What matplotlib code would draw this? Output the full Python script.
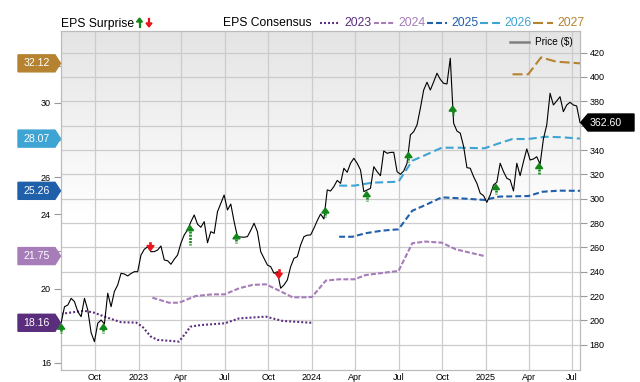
import numpy as np
import pandas as pd
import matplotlib
matplotlib.use('Agg')
import matplotlib.pyplot as plt
import matplotlib.dates as mdates
from matplotlib.patches import Polygon
from matplotlib.lines import Line2D
from matplotlib.transforms import IdentityTransform
from matplotlib.ticker import FuncFormatter

plt.rcParams['font.family'] = ['Liberation Sans', 'DejaVu Sans']
plt.rcParams['lines.scale_dashes'] = False

W, H = 640, 382

# weekly closing price
price_start = '2022-07-22'
price = [198.1, 211.2, 212.6, 218.1, 215.4, 207.1, 203.0, 218.1, 208.5, 189.9,
         182.5, 197.6, 200.3, 197.0, 222.3, 211.2, 223.7, 229.1, 238.7, 238.1,
         236.5, 238.5, 240.0, 240.0, 253.7, 258.4, 260.5, 256.4, 256.5, 257.8,
         261.1, 249.6, 249.0, 246.1, 250.2, 253.7, 263.4, 270.2, 274.3, 281.0,
         286.6, 279.0, 276.5, 281.1, 263.8, 272.9, 271.5, 289.3, 296.2, 303.0,
         290.7, 295.6, 281.1, 268.8, 268.5, 268.3, 268.8, 274.0, 279.8, 272.9,
         256.4, 251.0, 245.5, 244.1, 238.7, 240.0, 226.4, 229.1, 233.2, 244.1,
         251.0, 252.3, 262.0, 268.8, 270.0, 270.2, 275.7, 282.0, 287.4, 283.3,
         307.2, 306.3, 310.0, 315.0, 312.6, 325.0, 321.7, 329.1, 333.2, 329.1,
         323.6, 305.8, 307.2, 308.5, 326.3, 322.2, 318.9, 339.2, 337.3, 338.0,
         338.1, 322.2, 320.0, 322.8, 329.1, 352.4, 355.1, 360.6, 374.3, 389.3,
         395.7, 389.3, 396.0, 403.1, 398.0, 394.8, 394.3, 415.4, 362.0, 355.6,
         353.8, 343.0, 325.5, 325.0, 318.1, 312.6, 304.4, 302.5, 297.0, 303.0,
         311.3, 313.5, 329.1, 322.2, 316.8, 315.4, 306.3, 329.1, 318.9, 330.4,
         340.9, 331.8, 332.6, 334.5, 328.3, 349.1, 360.6, 386.6, 377.0, 380.3,
         383.8, 371.5, 377.0, 379.2, 377.0, 376.2, 362.6]
price_dates = pd.date_range(price_start, periods=len(price), freq='7D')

# EPS consensus by fiscal year
eps23_dates = ['2022-07-22', '2022-09-08', '2022-09-30', '2022-10-21', '2022-11-25',
               '2022-12-27', '2023-01-09', '2023-01-27', '2023-02-10', '2023-03-27',
               '2023-04-10', '2023-04-20', '2023-05-12', '2023-07-01', '2023-08-01',
               '2023-09-26', '2023-10-31', '2023-12-31']
eps23 = [18.64, 18.81, 18.70, 18.49, 18.19, 18.17, 17.95, 17.41, 17.24, 17.15,
         17.60, 17.95, 18.04, 18.13, 18.40, 18.49, 18.26, 18.16]

eps24_dates = ['2023-01-30', '2023-03-06', '2023-03-27', '2023-05-01', '2023-06-05',
               '2023-07-01', '2023-08-01', '2023-08-29', '2023-09-26', '2023-10-24',
               '2023-11-21', '2023-12-19', '2024-01-01', '2024-01-30', '2024-02-27',
               '2024-03-30', '2024-04-23', '2024-07-01', '2024-07-30', '2024-08-27',
               '2024-09-30', '2024-10-30', '2024-12-04', '2024-12-29']
eps24 = [19.51, 19.24, 19.24, 19.60, 19.69, 19.69, 20.02, 20.20, 20.23, 19.89,
         19.53, 19.53, 19.55, 20.43, 20.50, 20.50, 20.73, 20.95, 22.44, 22.53,
         22.47, 22.11, 21.90, 21.75]

eps25_dates = ['2024-02-27', '2024-03-26', '2024-04-23', '2024-05-28', '2024-07-01',
               '2024-07-30', '2024-08-27', '2024-09-30', '2024-11-06', '2024-12-29',
               '2025-01-29', '2025-03-31', '2025-04-30', '2025-06-04', '2025-07-18']
eps25 = [22.79, 22.79, 22.98, 23.12, 23.19, 24.19, 24.50, 24.91, 24.86, 24.77,
         24.95, 24.98, 25.21, 25.27, 25.26]

eps26_dates = ['2024-02-27', '2024-03-30', '2024-05-07', '2024-07-01', '2024-07-30',
               '2024-08-27', '2024-09-30', '2024-11-06', '2024-12-29', '2025-01-29',
               '2025-02-26', '2025-03-31', '2025-05-07', '2025-06-11', '2025-07-18']
eps26 = [25.54, 25.54, 25.70, 25.75, 26.88, 27.19, 27.58, 27.58, 27.55, 27.82,
         28.05, 28.05, 28.17, 28.14, 28.07]

eps27_dates = ['2025-02-26', '2025-03-31', '2025-04-27', '2025-05-29', '2025-07-18']
eps27 = [31.53, 31.53, 32.44, 32.21, 32.12]

years = ['2023', '2024', '2025', '2026', '2027']

# EPS surprise report dates
beat_dates = ['2022-07-22', '2022-10-19', '2023-04-19', '2023-07-26', '2024-01-29',
              '2024-04-25', '2024-07-22', '2024-10-23', '2025-01-22', '2025-04-23']
miss_dates = ['2023-01-26', '2023-10-23']

# styles
c_eps = ['#5b2d7d', '#a67cb9', '#2060aa', '#3da4d3', '#b5832f']
dash = [(0, (1.4, 1.5)), (0, (3.6, 1.5)), (0, (4.3, 2.2)), (0, (5.8, 2.9)), (0, (7.2, 2.9))]
green, red = '#12871a', '#e8141c'
beat_tail = [4, 4, 14, 4, 4, 4, 4, 4, 4, 5]

fig = plt.figure(figsize=(W / 100, H / 100), dpi=100)
L, R, T, B = 60.7, 580.0, 31.0, 370.0
ax = fig.add_axes([L / W, 1 - B / H, (R - L) / W, (B - T) / H])
ax2 = ax.twinx()

eps_lim = (15.62, 33.86)
p_lim = (159.2, 437.8)
x0, x1 = pd.Timestamp('2022-07-21'), pd.Timestamp('2025-07-18')

# background gradient
f = np.linspace(0, 1, 256)
g = 0.895 + 0.105 * np.clip(f / 0.55, 0, 1)
grad = np.dstack([g, g, g]).reshape(256, 1, 3)
ax.imshow(grad, extent=[0, 1, 0, 1], transform=ax.transAxes, aspect='auto',
          origin='upper', zorder=0, interpolation='bilinear')

ax.set_xlim(x0, x1)
ax.set_ylim(*eps_lim)
ax2.set_ylim(*p_lim)

# grid: vertical at quarter ticks, horizontal at price ticks
p_ticks = list(range(180, 421, 20))
for t in p_ticks:
    e = eps_lim[0] + (t - p_lim[0]) * (eps_lim[1] - eps_lim[0]) / (p_lim[1] - p_lim[0])
    ax.axhline(e, color='#cccccc', lw=0.9, zorder=0.5)
ax.xaxis.set_major_locator(mdates.MonthLocator(bymonth=[1, 4, 7, 10]))


def qfmt(x, pos):
    d = mdates.num2date(x)
    return str(d.year) if d.month == 1 else d.strftime('%b')


ax.xaxis.set_major_formatter(FuncFormatter(qfmt))
ax.grid(axis='x', color='#cccccc', lw=0.9, zorder=0.5)

# EPS consensus lines
series = [(eps23_dates, eps23), (eps24_dates, eps24), (eps25_dates, eps25),
          (eps26_dates, eps26), (eps27_dates, eps27)]
for (d, v), c, ls in zip(series, c_eps, dash):
    ax.plot(pd.to_datetime(d), v, color=c, lw=1.5, linestyle=ls, zorder=2)

# price
ax2.plot(price_dates, price, color='black', lw=0.8, zorder=3)

# ticks (labels hidden where the value badges sit)
eps_ticks = list(range(16, 33, 2))
ax.set_yticks(eps_ticks)
ax.set_yticklabels(['' if t in (18, 22, 28, 32) else str(t) for t in eps_ticks])
ax2.set_yticks(p_ticks)
ax2.set_yticklabels(['' if t == 360 else str(t) for t in p_ticks])
ax.tick_params(axis='y', length=5, width=0.8, color='#999999', labelsize=6.5, pad=2)
ax2.tick_params(axis='y', length=5, width=0.8, color='#999999', labelsize=6.5, pad=2)
ax.tick_params(axis='x', length=0, labelsize=6.5, pad=2)
for a in (ax, ax2):
    for s in a.spines.values():
        s.set_color('#bbbbbb')
        s.set_linewidth(0.8)

# surprise arrows
pnum = mdates.date2num(price_dates)


def to_disp(d):
    dn = mdates.date2num(pd.Timestamp(d))
    p = np.interp(dn, pnum, price)
    return ax2.transData.transform((dn, p))


for d, tl in zip(beat_dates, beat_tail):
    xd, yd = to_disp(d)
    tip = yd - 1.5
    fig.add_artist(Polygon([(xd - 3.6, tip - 5), (xd + 3.6, tip - 5), (xd, tip)],
                           closed=True, color=green, transform=IdentityTransform()))
    fig.add_artist(Line2D([xd, xd], [tip - 5, tip - 5 - tl], color=green, lw=1.9,
                          linestyle=(0, (1.5, 0.8)), transform=IdentityTransform()))
for d in miss_dates:
    xd, yd = to_disp(d)
    tip = yd + 0.5
    fig.add_artist(Polygon([(xd - 3.6, tip + 5), (xd + 3.6, tip + 5), (xd, tip)],
                           closed=True, color=red, transform=IdentityTransform()))
    fig.add_artist(Line2D([xd, xd], [tip + 5, tip + 8], color=red, lw=1.9,
                          transform=IdentityTransform()))

# left badges with latest consensus
for (d, v), c in zip(series, c_eps):
    yd = ax.transData.transform((mdates.date2num(x0), v[-1]))[1]
    fig.add_artist(Polygon([(18, yd + 8.5), (55, yd + 8.5), (60.5, yd), (55, yd - 8.5),
                            (18, yd - 8.5)], closed=True, color=c,
                           transform=IdentityTransform(), zorder=5))
    fig.text(36.5 / W, yd / H, f'{v[-1]:.2f}', color='white', fontsize=7.6,
             ha='center', va='center', zorder=6)

# right badge with last price
yd = ax2.transData.transform((mdates.date2num(x1), price[-1]))[1]
fig.add_artist(Polygon([(580.7, yd), (588, yd + 8.5), (634, yd + 8.5), (634, yd - 8.5),
                        (588, yd - 8.5)], closed=True, color='black',
                       transform=IdentityTransform(), zorder=5))
fig.text(606 / W, yd / H, f'{price[-1]:.2f}', color='white', fontsize=7.6,
         ha='center', va='center', zorder=6)

# top legend
fig.text(60.7 / W, 1 - 26.5 / H, 'EPS Surprise', fontsize=8.7, va='baseline')
ly = H - 22.5
fig.add_artist(Polygon([(136.5, ly + 0.5), (142.5, ly + 0.5), (139.5, ly + 4.5)],
                       color=green, transform=IdentityTransform()))
fig.add_artist(Line2D([139.5, 139.5], [ly + 0.5, ly - 4], color=green, lw=1.6,
                      transform=IdentityTransform()))
fig.add_artist(Polygon([(146, ly - 0.5), (152, ly - 0.5), (149, ly - 4.5)],
                       color=red, transform=IdentityTransform()))
fig.add_artist(Line2D([149, 149], [ly - 0.5, ly + 4], color=red, lw=1.6,
                      transform=IdentityTransform()))
fig.text(222.8 / W, 1 - 26.5 / H, 'EPS Consensus', fontsize=8.7, va='baseline')
leg_x = [320, 374, 427, 480, 533]
for lx, yr, c, ls in zip(leg_x, years, c_eps, dash):
    fig.add_artist(Line2D([lx, lx + 20], [ly, ly], color=c, lw=1.5, linestyle=ls,
                          transform=IdentityTransform()))
    fig.text((lx + 24) / W, 1 - 26.5 / H, yr, color=c, fontsize=8.7, va='baseline')

# price legend
fig.add_artist(Line2D([510, 529], [H - 41.7, H - 41.7], color='#808080', lw=1.8,
                      transform=IdentityTransform()))
fig.text(535 / W, 1 - 41.7 / H, 'Price ($)', fontsize=7.2, va='center')

fig.savefig('out.png', dpi=100)
